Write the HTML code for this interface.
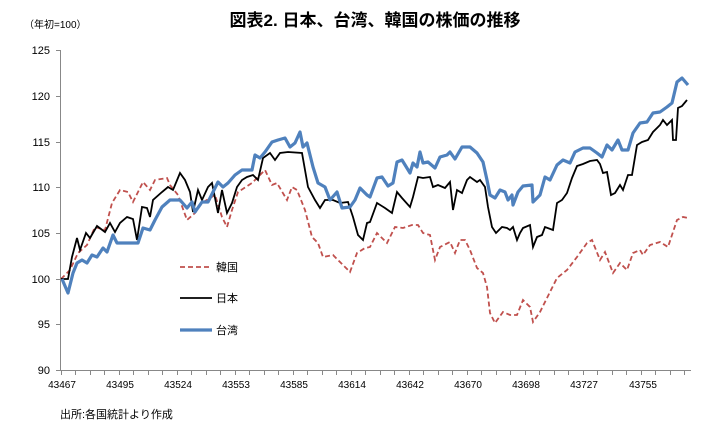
<!DOCTYPE html>
<html><head><meta charset="utf-8"><style>
body{margin:0;background:#fff;}
svg text{font-family:"Liberation Sans","Noto Sans CJK JP",sans-serif;}
</style></head><body>
<svg width="720" height="430" viewBox="0 0 720 430" xmlns="http://www.w3.org/2000/svg">
<text x="375" y="26" font-size="17" font-weight="bold" text-anchor="middle" fill="#000">図表2. 日本、台湾、韓国の株価の推移</text>
<text x="24" y="28" font-size="10" fill="#000">（年初=100）</text>
<g font-size="11" fill="#000" text-anchor="end">
<text x="50" y="54">125</text><text x="50" y="100">120</text><text x="50" y="146">115</text><text x="50" y="191">110</text><text x="50" y="237">105</text><text x="50" y="283">100</text><text x="50" y="328">95</text><text x="50" y="374">90</text>
</g>
<g stroke="#888" stroke-width="1" fill="none">
<path d="M60.5 50V370.5H691"/>
<path d="M56 50.5h5M56 96.5h5M56 142.5h5M56 187.5h5M56 233.5h5M56 279.5h5M56 324.5h5M56 370.5h5"/>
<path d="M61.5 370v5M75.5 370v5M90.5 370v5M104.5 370v5M119.5 370v5M133.5 370v5M148.5 370v5M162.5 370v5M177.5 370v5M191.5 370v5M206.5 370v5M220.5 370v5M235.5 370v5M249.5 370v5M264.5 370v5M278.5 370v5M293.5 370v5M307.5 370v5M322.5 370v5M336.5 370v5M351.5 370v5M365.5 370v5M380.5 370v5M394.5 370v5M409.5 370v5M423.5 370v5M438.5 370v5M452.5 370v5M467.5 370v5M481.5 370v5M496.5 370v5M510.5 370v5M525.5 370v5M539.5 370v5M554.5 370v5M568.5 370v5M583.5 370v5M597.5 370v5M612.5 370v5M626.5 370v5M641.5 370v5M655.5 370v5M670.5 370v5M684.5 370v5"/>
</g>
<g font-size="10" fill="#000" text-anchor="middle">
<text x="62" y="388">43467</text><text x="120" y="388">43495</text><text x="178" y="388">43524</text><text x="236" y="388">43553</text><text x="294" y="388">43585</text><text x="352" y="388">43614</text><text x="410" y="388">43642</text><text x="468" y="388">43670</text><text x="526" y="388">43698</text><text x="584" y="388">43727</text><text x="643" y="388">43755</text>
</g>
<text x="60" y="418" font-size="11" fill="#000">出所:各国統計より作成</text>

<polyline fill="none" stroke="#c0504d" stroke-width="1.8" stroke-dasharray="5,3" points="61,279 70,270 78,253 87,245 95,227 105,230 112,203 120,190 128,192 133,202 143,182 150,190 155,180 167,178 170,185 178,195 187,220 195,213 202,203 215,195 222,217 227,227 232,210 238,192 252,183 265,170 272,185 277,183 287,200 292,187 297,190 305,210 312,237 318,243 323,257 333,255 340,262 350,272 357,253 365,248 370,247 377,233 387,243 395,227 403,228 412,225 418,225 423,233 430,235 435,260 440,247 450,242 455,253 460,240 465,240 470,250 477,268 483,273 487,287 490,313 495,323 503,312 510,315 517,315 523,300 530,307 533,322 540,312 547,298 557,278 567,270 577,257 587,243 592,240 600,260 605,252 613,273 620,263 627,270 633,253 640,250 643,255 650,245 660,242 668,247 677,220 683,217 688,218"/>

<polyline fill="none" stroke="#000" stroke-width="1.8" points="61,279 68,279 72,257 77,238 80,250 86,233 90,238 97,226 105,232 110,223 115,232 120,223 127,217 133,219 137,240 142,207 147,208 150,217 153,200 162,192 168,187 173,190 180,173 185,180 190,192 193,212 198,190 202,200 208,187 212,183 218,213 222,190 227,213 232,203 237,187 242,180 247,177 253,175 258,180 263,158 270,153 275,160 280,153 288,152 302,153 308,187 315,200 320,208 325,200 333,200 340,203 348,202 353,217 358,235 363,240 367,223 370,222 377,203 385,208 392,213 397,192 402,198 410,207 413,197 418,177 423,178 430,177 433,187 438,185 445,188 450,182 453,210 457,190 462,193 467,180 470,177 477,182 480,180 485,187 488,207 492,227 496,233 502,227 507,228 510,230 513,227 517,240 520,233 523,228 530,225 533,247 537,237 542,235 545,227 553,230 557,203 562,200 567,193 572,178 577,166 583,164 590,161 597,160 600,164 603,173 607,172 611,195 615,193 620,185 623,190 628,175 632,175 637,145 642,142 648,140 653,132 660,125 663,120 667,125 672,120 673,140 676,140 678,108 682,106 687,100"/>

<polyline fill="none" stroke="#4f81bd" stroke-width="3.2" stroke-linejoin="round" points="62,279 68,293 73,273 77,263 82,260 87,263 92,255 97,257 103,248 107,252 113,235 117,243 138,243 143,228 150,230 155,220 162,207 170,200 180,200 187,208 192,202 195,212 202,202 208,202 218,182 223,187 228,183 235,175 242,170 252,170 255,155 260,158 265,152 272,142 278,140 285,138 290,147 295,143 300,132 303,147 307,143 313,167 318,183 325,187 330,200 337,192 342,208 350,207 355,200 360,188 367,195 370,197 377,178 382,177 388,186 393,183 397,162 402,160 410,173 413,163 417,167 420,152 423,163 428,162 435,168 440,157 447,155 450,152 455,159 462,147 470,147 477,153 483,162 487,180 490,195 495,198 500,190 505,192 508,200 512,195 513,205 518,192 523,186 532,185 533,202 540,195 545,177 550,180 557,165 563,160 570,163 575,152 583,148 590,148 597,153 602,157 607,145 612,150 618,140 622,150 628,150 633,133 640,123 647,122 653,113 660,112 667,107 672,103 677,82 682,78 688,85"/>

<line x1="180" y1="267" x2="212" y2="267" stroke="#c0504d" stroke-width="1.8" stroke-dasharray="5,3"/>
<text x="216" y="271" font-size="11">韓国</text>
<line x1="180" y1="298" x2="212" y2="298" stroke="#000" stroke-width="1.8"/>
<text x="216" y="302" font-size="11">日本</text>
<line x1="180" y1="330" x2="212" y2="330" stroke="#4f81bd" stroke-width="3.2"/>
<text x="216" y="334" font-size="11">台湾</text>
</svg>
</body></html>
